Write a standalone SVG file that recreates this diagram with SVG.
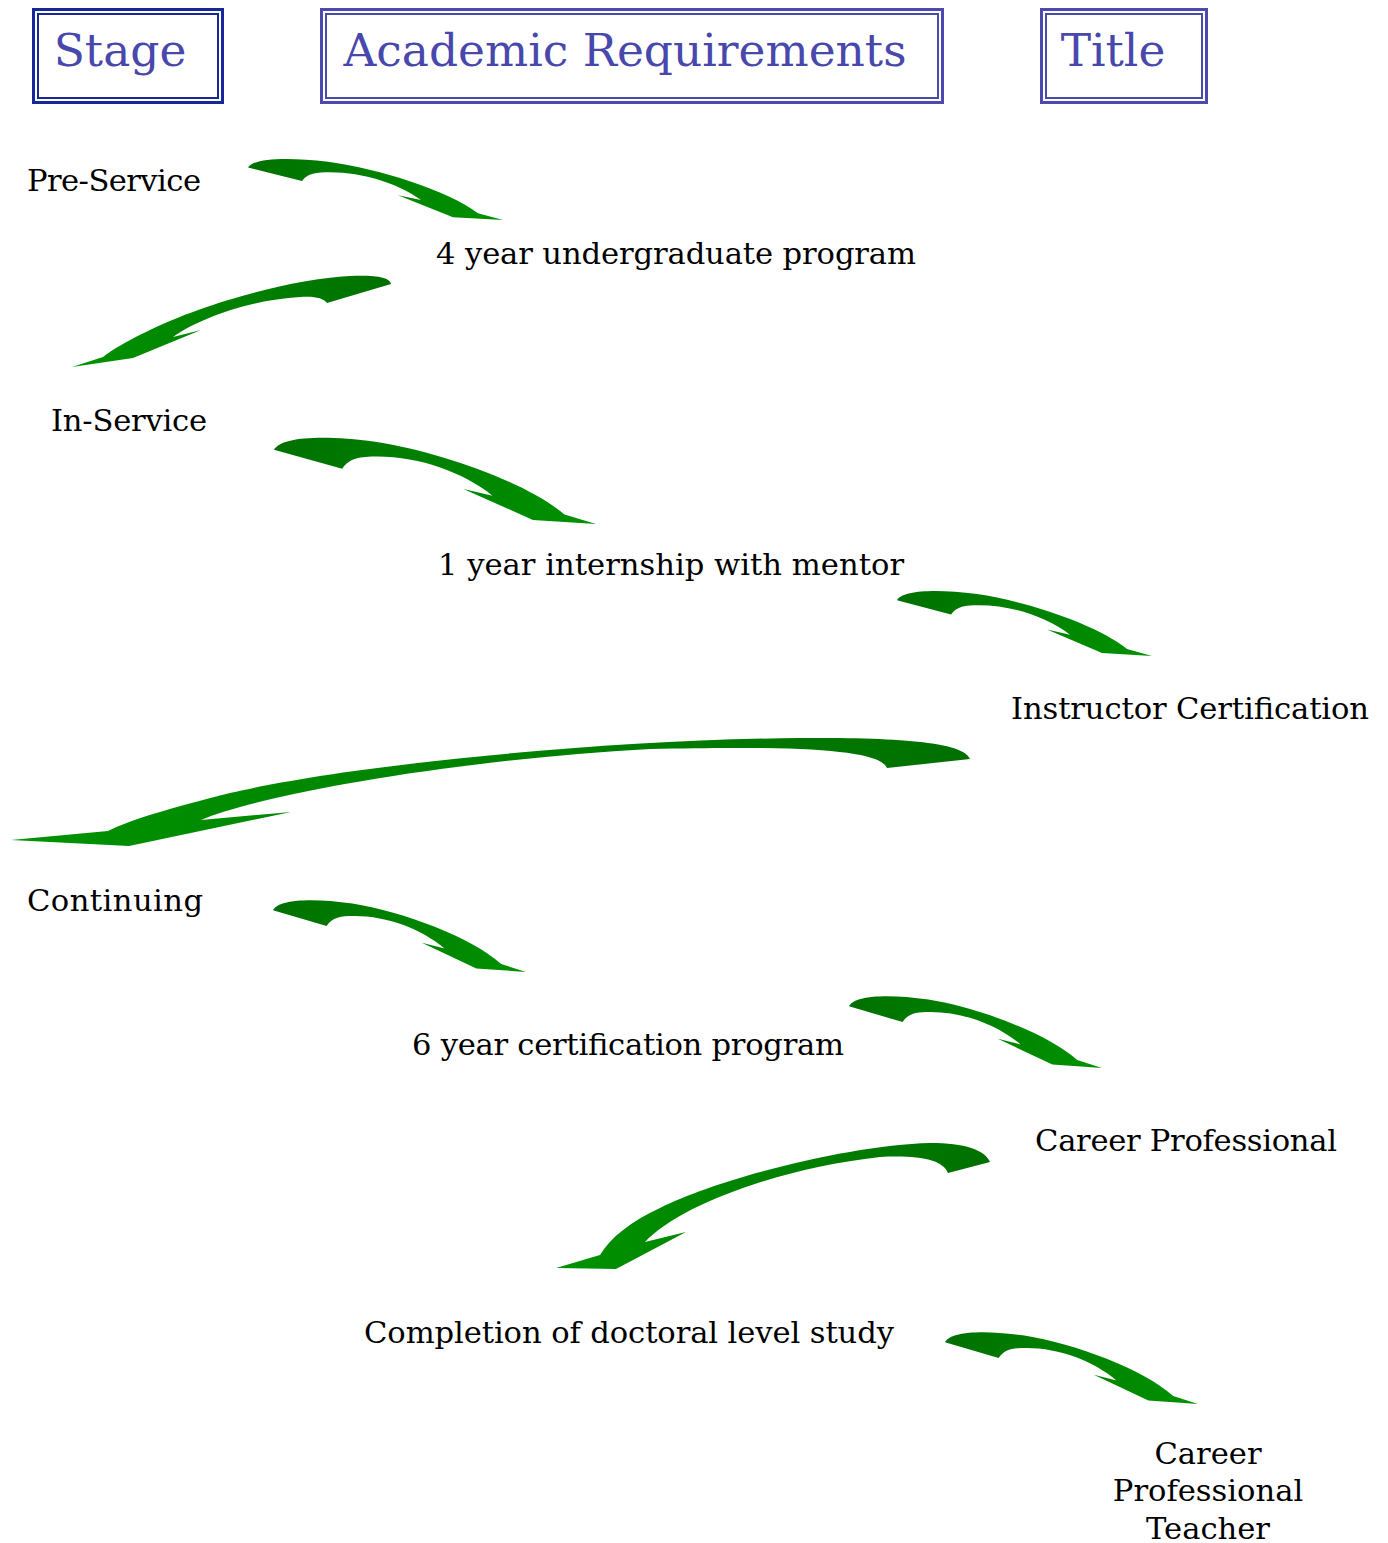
<svg xmlns="http://www.w3.org/2000/svg" width="1388" height="1543" viewBox="0 0 1388 1543">
  <defs>
    <linearGradient id="gR" x1="0" y1="0" x2="1" y2="0">
      <stop offset="0" stop-color="#007000"/>
      <stop offset="0.45" stop-color="#008000"/>
      <stop offset="1" stop-color="#009200"/>
    </linearGradient>
    <linearGradient id="gL" x1="1" y1="0" x2="0" y2="0">
      <stop offset="0" stop-color="#007000"/>
      <stop offset="0.45" stop-color="#008000"/>
      <stop offset="1" stop-color="#009200"/>
    </linearGradient>
    <path id="rArrow" d="M0,11 C6,1 40,0 80,5 C130,12 200,35 230,59 L255,66 L205,63 L150,40 L173,45 C150,28 116,16 82,16 C68,16 60,17 54,25 Z"/>
  </defs>
  <style>
    .hdr-dark { fill: none; stroke: #16289a; }
    .hdr { fill: none; stroke: #4a4ab0; }
    .htxt { font-family: "DejaVu Serif", "Liberation Serif", serif; font-size: 45.5px; fill: #4848ac; text-anchor: middle; }
    .lbl { font-family: "DejaVu Serif", "Liberation Serif", serif; font-size: 30.6px; fill: #000000; text-anchor: middle; }
    .ar { fill: url(#gR); }
    .al { fill: url(#gL); }
  </style>
  <rect width="1388" height="1543" fill="#ffffff"/>

  <g id="header-stage">
    <rect class="hdr-dark" x="33.5" y="9.5" width="189" height="93" stroke-width="3"/>
    <rect class="hdr-dark" x="38" y="14" width="180" height="84" stroke-width="2"/>
    <text class="htxt" x="120" y="66">Stage</text>
  </g>
  <g id="header-academic">
    <rect class="hdr" x="321.5" y="9.5" width="621" height="93" stroke-width="3"/>
    <rect class="hdr" x="326" y="14" width="612" height="84" stroke-width="2"/>
    <text class="htxt" x="625" y="66">Academic Requirements</text>
  </g>
  <g id="header-title">
    <rect class="hdr" x="1041.5" y="9.5" width="165" height="93" stroke-width="3"/>
    <rect class="hdr" x="1046" y="14" width="156" height="84" stroke-width="2"/>
    <text class="htxt" x="1113" y="66">Title</text>
  </g>

  <g id="node-preservice"><text class="lbl" x="114" y="191" textLength="174" lengthAdjust="spacing">Pre-Service</text></g>
  <g id="node-4year"><text class="lbl" x="676" y="264" textLength="480" lengthAdjust="spacing">4 year undergraduate program</text></g>
  <g id="node-inservice"><text class="lbl" x="129" y="431" textLength="156" lengthAdjust="spacing">In-Service</text></g>
  <g id="node-1year"><text class="lbl" x="671" y="575" textLength="466" lengthAdjust="spacing">1 year internship with mentor</text></g>
  <g id="node-instructor"><text class="lbl" x="1190" y="719" textLength="358" lengthAdjust="spacing">Instructor Certification</text></g>
  <g id="node-continuing"><text class="lbl" x="115" y="911" textLength="176" lengthAdjust="spacing">Continuing</text></g>
  <g id="node-6year"><text class="lbl" x="628" y="1055" textLength="432" lengthAdjust="spacing">6 year certification program</text></g>
  <g id="node-career"><text class="lbl" x="1186" y="1151" textLength="302" lengthAdjust="spacing">Career Professional</text></g>
  <g id="node-doctoral"><text class="lbl" x="629" y="1343" textLength="530" lengthAdjust="spacing">Completion of doctoral level study</text></g>
  <g id="node-cpt">
    <text class="lbl" x="1208" y="1464">Career</text>
    <text class="lbl" x="1208" y="1501">Professional</text>
    <text class="lbl" x="1208" y="1539">Teacher</text>
  </g>

  <g id="connectors">
    <use href="#rArrow" class="ar" transform="translate(248,157) scale(1,0.955)"/>
    <path class="al" d="M391,284 C390,277 375,275 350,276 C290,279 200,305 150,330 C125,342 112,350 103,357 L72,367 L133,358 L201,330 L173,337 C200,318 250,300 300,297 C315,296 323,298 327,303 Z"/>
    <use href="#rArrow" class="ar" transform="translate(274,435) scale(1.263,1.348)"/>
    <use href="#rArrow" class="ar" transform="translate(897,589) scale(1,1.015)"/>
    <path class="al" d="M970,759 C965,745 920,737 800,738 C600,740 350,765 230,793 C170,808 130,820 108,831 L11,840 L129,846 L291,812 L201,820 C260,795 450,760 650,749 C820,745 880,752 887,768 Z"/>
    <use href="#rArrow" class="ar" transform="translate(273,898) scale(0.992,1.12)"/>
    <use href="#rArrow" class="ar" transform="translate(849,994) scale(0.992,1.12)"/>
    <path class="al" d="M990,1162 C985,1150 965,1143 930,1143 C850,1145 720,1178 660,1208 C630,1222 610,1238 600,1255 L556,1268 L616,1269 L686,1232 L645,1242 C680,1205 780,1168 880,1157 C920,1155 943,1160 948,1173 Z"/>
    <use href="#rArrow" class="ar" transform="translate(945,1330) scale(0.992,1.12)"/>
  </g>
</svg>
